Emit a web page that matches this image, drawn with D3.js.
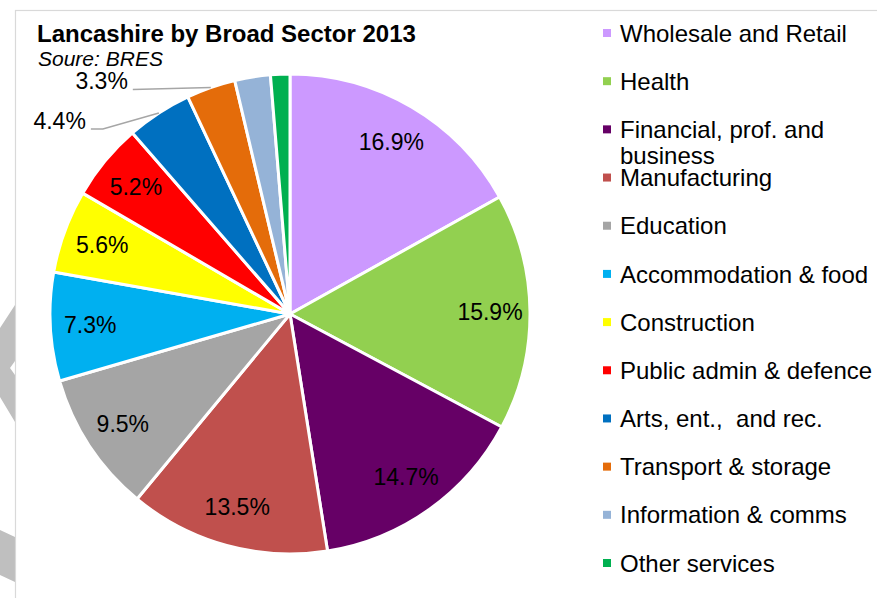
<!DOCTYPE html>
<html>
<head>
<meta charset="utf-8">
<script src="https://cdn.jsdelivr.net/npm/d3@7"></script>
<style>
  html, body { margin: 0; padding: 0; background: #fff; }
  svg { display: block; font-family: "Liberation Sans", Arial, sans-serif; }
  svg text { white-space: pre; }
</style>
</head>
<body>
<svg id="chart" width="877" height="598"></svg>
<script>
// Employment share by broad sector, Lancashire 2013 (BRES)
const sectors = [
  "Wholesale and Retail", "Health", "Financial, prof. and business", "Manufacturing",
  "Education", "Accommodation & food", "Construction", "Public admin & defence",
  "Arts, ent.,  and rec.", "Transport & storage", "Information & comms", "Other services"
];
const shares = [16.9, 15.9, 14.7, 13.5, 9.5, 7.3, 5.6, 5.2, 4.4, 3.3, 2.4, 1.3];
const colours = [
  "#CC99FF", "#92D050", "#660066", "#C0504D", "#A5A5A5", "#00B0F0",
  "#FFFF00", "#FF0000", "#0070C0", "#E46C0A", "#95B3D7", "#00B050"
];
// which slices carry a printed value, and which of those sit outside with a leader
const labelled = [true, true, true, true, true, true, true, true, true, true, false, false];
const outside = [false, false, false, false, false, false, false, false, true, true, false, false];

const svg = d3.select("#chart");

// background ornaments on the left margin
svg.append("path")
  .attr("d", "M15,305 L0,328 L0,397 L15,422 L15,375 L10,368 L15,361 Z")
  .attr("fill", "#bfbfbf");
svg.append("path")
  .attr("d", "M0,530 L15,537 L15,582 L0,575 Z")
  .attr("fill", "#bfbfbf");

// chart frame
svg.append("rect")
  .attr("x", 15.5).attr("y", 10.5)
  .attr("width", 900).attr("height", 620)
  .attr("fill", "#fff")
  .attr("stroke", "#d9d9d9").attr("stroke-width", 1.2);

// titles
svg.append("text")
  .attr("x", 37).attr("y", 42)
  .attr("font-size", 24).attr("font-weight", "bold").attr("fill", "#000")
  .text("Lancashire by Broad Sector 2013");
svg.append("text")
  .attr("x", 38).attr("y", 66)
  .attr("font-size", 21).attr("font-style", "italic").attr("fill", "#000")
  .text("Soure: BRES");

// pie
const cx = 290, cy = 314, r = 240;
const pie = d3.pie().sort(null).value(d => d.v).startAngle(0).endAngle(2 * Math.PI);
const rows = sectors.map((s, i) => ({ s, v: shares[i], c: colours[i], lab: labelled[i], out: outside[i] }));
const arcs = pie(rows);
const arc = d3.arc().innerRadius(0).outerRadius(r);
const labelArc = d3.arc().innerRadius(200).outerRadius(200);

const g = svg.append("g").attr("transform", `translate(${cx},${cy})`);
g.selectAll("path.slice")
  .data(arcs)
  .enter().append("path")
  .attr("class", "slice")
  .attr("d", arc)
  .attr("fill", d => d.data.c)
  .attr("stroke", "#fff")
  .attr("stroke-width", 3)
  .attr("stroke-linejoin", "round");

const fmt = v => v.toFixed(1) + "%";

// values printed inside the slices
g.selectAll("text.inside")
  .data(arcs.filter(d => d.data.lab && !d.data.out))
  .enter().append("text")
  .attr("class", "inside")
  .attr("transform", d => `translate(${labelArc.centroid(d)})`)
  .attr("text-anchor", "middle")
  .attr("dy", "0.36em")
  .attr("font-size", 23)
  .attr("fill", "#000")
  .text(d => fmt(d.data.v));

// small slices: values outside with leader lines
const leaderShape = {
  "Arts, ent.,  and rec.": { bend: [-56, 16], tail: [-12, 0] },
  "Transport & storage": { bend: [-78, 2], tail: [0, 0] }
};
arcs.filter(d => d.data.out).forEach(d => {
  const a = (d.startAngle + d.endAngle) / 2;
  const p = [r * Math.sin(a), -r * Math.cos(a)];
  const sh = leaderShape[d.data.s];
  const b = [p[0] + sh.bend[0], p[1] + sh.bend[1]];
  const t = [b[0] + sh.tail[0], b[1] + sh.tail[1]];
  g.append("polyline")
    .attr("points", [p, b, t].map(q => q.join(",")).join(" "))
    .attr("fill", "none")
    .attr("stroke", "#a6a6a6")
    .attr("stroke-width", 1.5);
  g.append("text")
    .attr("x", t[0] - 5).attr("y", t[1])
    .attr("text-anchor", "end")
    .attr("font-size", 23)
    .attr("fill", "#000")
    .text(fmt(d.data.v));
});

// legend
const legendY = d3.scalePoint().domain(sectors).range([33, 563]);
const lg = svg.append("g");
sectors.forEach((s, i) => {
  const y = legendY(s);
  lg.append("rect")
    .attr("x", 603).attr("y", y - 4)
    .attr("width", 8).attr("height", 8)
    .attr("fill", colours[i]);
  const t = lg.append("text")
    .attr("x", 620).attr("y", y)
    .attr("dy", "0.36em")
    .attr("font-size", 24)
    .attr("fill", "#000");
  if (s === "Financial, prof. and business") {
    t.append("tspan").attr("x", 620).text("Financial, prof. and");
    t.append("tspan").attr("x", 620).attr("dy", 26).text("business");
  } else {
    t.text(s);
  }
});
</script>
</body>
</html>
